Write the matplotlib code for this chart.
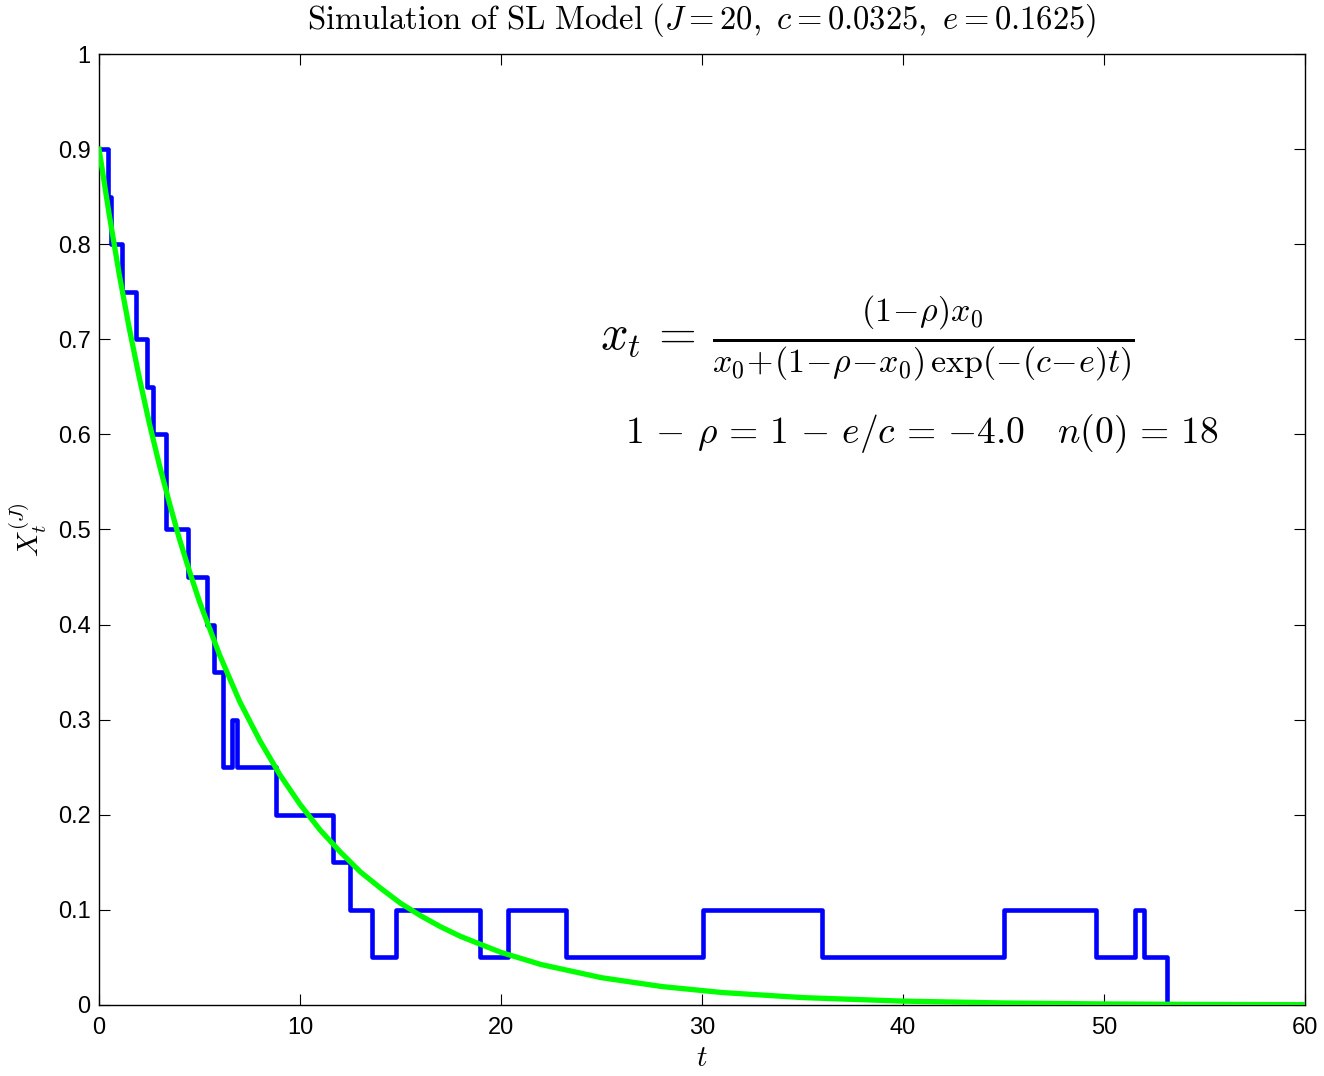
import matplotlib
matplotlib.use("Agg")
import matplotlib.pyplot as plt

plt.rcParams["mathtext.fontset"] = "cm"
plt.rcParams["font.family"] = ["Liberation Sans", "DejaVu Sans"]

# simulated path (jump times and the value held from each time on)
step_t = [0, 0.45, 0.6, 1.14, 1.85, 2.4, 2.7, 3.35, 4.43, 5.37, 5.72, 6.17,
          6.6, 6.87, 8.8, 11.64, 12.49, 13.58, 14.78, 18.96, 20.35, 23.23,
          30.03, 35.97, 45.05, 49.6, 51.52, 52.0, 53.13, 60]
step_x = [0.9, 0.85, 0.8, 0.75, 0.7, 0.65, 0.6, 0.5, 0.45, 0.4, 0.35, 0.25,
          0.3, 0.25, 0.2, 0.15, 0.1, 0.05, 0.1, 0.05, 0.1, 0.05,
          0.1, 0.05, 0.1, 0.05, 0.1, 0.05, 0.0, 0.0]

# deterministic curve
curve_t = [0, 0.5, 1, 1.5, 2, 2.5, 3, 3.5, 4, 4.5, 5, 6, 7, 8, 9, 10, 11, 12,
           13, 14, 15, 16, 17, 18, 20, 22, 25, 28, 31, 35, 40, 45, 50, 55, 60]
curve_x = [0.9, 0.832, 0.769, 0.712, 0.660, 0.612, 0.568, 0.528, 0.490, 0.456,
           0.424, 0.368, 0.319, 0.278, 0.242, 0.211, 0.184, 0.161, 0.140,
           0.123, 0.107, 0.0939, 0.0822, 0.0720, 0.0553, 0.0425, 0.0287,
           0.0194, 0.0131, 0.00778, 0.00405, 0.00212, 0.00110, 0.00058, 0.0003]

x_ticks = [0, 10, 20, 30, 40, 50, 60]
y_ticks = [0, 0.1, 0.2, 0.3, 0.4, 0.5, 0.6, 0.7, 0.8, 0.9, 1]
y_tick_labels = ["0", "0.1", "0.2", "0.3", "0.4", "0.5", "0.6", "0.7", "0.8", "0.9", "1"]

fig = plt.figure(figsize=(13.24, 10.76), dpi=100)
ax = fig.add_axes([0.0748, 0.066, 0.9108, 0.8838])

ax.step(step_t, step_x, where="post", color=(0, 0, 1), lw=3.3, zorder=2)
ax.plot(curve_t, curve_x, color=(0, 1, 0), lw=3.8, zorder=3)

ax.set_xlim(0, 60)
ax.set_ylim(0, 1)
ax.set_xticks(x_ticks)
ax.set_yticks(y_ticks)
ax.set_yticklabels(y_tick_labels)
ax.tick_params(direction="in", top=True, right=True, length=8, width=0.8,
               labelsize=17)
ax.tick_params(axis="x", pad=9)
ax.tick_params(axis="y", pad=6)
for s in ax.spines.values():
    s.set_linewidth(1.0)

ax.set_title(r"$\mathrm{Simulation\ of\ SL\ Model}\ (J=20,\ c=0.0325,\ e=0.1625)$",
             fontsize=23.5, pad=18)
ax.set_xlabel(r"$t$", fontsize=21, labelpad=3)
ax.set_ylabel(r"$X_t^{(J)}$", fontsize=21, labelpad=6)

ax.text(0.637, 0.701,
        r"$x_t\,=\,\frac{(1\!-\!\rho)x_0}{x_0\!+\!(1\!-\!\rho\!-\!x_0)\,\exp(-(c\!-\!e)t)}$",
        transform=ax.transAxes, fontsize=35, ha="center", va="center")
ax.text(0.682, 0.601,
        r"$1\,-\,\rho\,=\,1\,-\,e/c\,=\,{-}4.0\quad n(0)\,=\,18$",
        transform=ax.transAxes, fontsize=27, ha="center", va="center")

fig.savefig("out.png", dpi=100)
